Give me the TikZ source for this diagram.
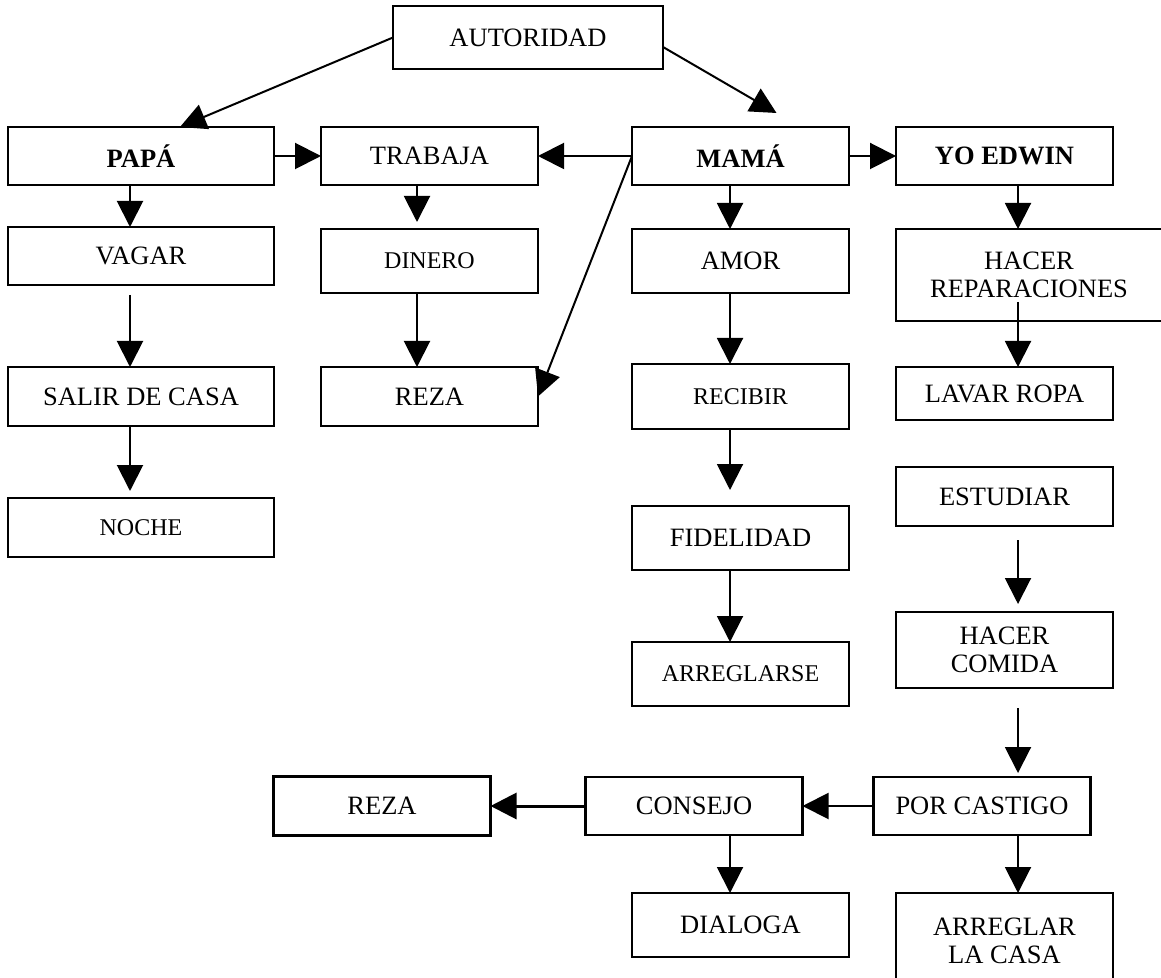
\documentclass[tikz,border=0pt]{standalone}
\usepackage{fontspec}
\setmainfont{Liberation Serif}
\usetikzlibrary{positioning,arrows.meta}

\begin{document}
\begin{tikzpicture} [
                x=0.5pt, y=-0.5pt,
                boxnode/.style={
                    rectangle,
                    draw,
                    line width=1.2pt,
                    minimum width=108.5pt,
                    minimum height=29pt,
                    inner sep=2pt,
                    outer sep=0pt,
                    align=center,
                    font=\fontsize{13.25}{14}\selectfont
                },
                widenode/.style={boxnode, minimum width=133pt},
                smalltext/.style={font=\fontsize{12}{14}\selectfont},
                flecha/.style={-{Triangle[width=13pt,length=13pt]}, line width=1pt}
            ]
                \fill[white] (0,0) rectangle (1161,978);
                \useasboundingbox (0,0) rectangle (1161,978);

                \coordinate (c1) at (130,0);
                \coordinate (c2) at (417,0);
                \coordinate (c3) at (730,0);
                \coordinate (c4) at (1018,0);

                \node[boxnode, minimum width=135pt, minimum height=31.5pt] (aut) at (528,37.5) {AUTORIDAD};

                \node[widenode, font=\fontsize{13.25}{14}\selectfont\bfseries] (papa) at (141,156) {PAPÁ};
                \node[boxnode] (trab) [right=23.5pt of papa] {TRABAJA};
                \node[boxnode, font=\fontsize{13.25}{14}\selectfont\bfseries] (mama) [right=47pt of trab] {MAMÁ};
                \node[boxnode, font=\fontsize{13.25}{14}\selectfont\bfseries] (yo) [right=23.5pt of mama] {YO EDWIN};

                \node[widenode] (vagar) [below=21pt of papa] {VAGAR};
                \node[widenode, minimum height=29.5pt] (salir) [below=41pt of vagar] {SALIR DE CASA};
                \node[widenode, smalltext, minimum height=29.5pt] (noche) [below=36pt of salir] {NOCHE};

                \node[boxnode, smalltext, minimum height=32pt] (dinero) [below=22pt of trab] {DINERO};
                \node[boxnode, minimum height=29.5pt] (reza1) [below=37pt of dinero] {REZA};

                \node[boxnode, minimum height=32pt] (amor) [below=22pt of mama] {AMOR};
                \node[boxnode, smalltext, minimum height=32.5pt] (recibir) [below=35.5pt of amor] {RECIBIR};
                \node[boxnode, minimum height=32pt] (fid) [below=38.5pt of recibir] {FIDELIDAD};
                \node[boxnode, smalltext, minimum height=32pt] (arreglarse) [below=36pt of fid] {ARREGLARSE};

                \node[widenode, minimum height=46pt] (hrep) [below=22pt of yo.south west, anchor=north west] {HACER\\REPARACIONES};
                \node[boxnode, minimum height=26.5pt] (lavar) [below=23pt of hrep.south west, anchor=north west] {LAVAR ROPA};
                \node[boxnode, minimum height=29.5pt] (estud) [below=23.5pt of lavar] {ESTUDIAR};
                \node[boxnode, minimum height=38pt] (hcom) [below=43pt of estud] {HACER\\COMIDA};

                \node[boxnode] (por) at (982,806) {POR CASTIGO};
                \node[boxnode] (consejo) [left=35.5pt of por] {CONSEJO};
                \node[boxnode, minimum height=29.5pt] (reza2) [left=47.5pt of consejo] {REZA};
                \node[boxnode, minimum height=32pt] (dialoga) [below=93.5pt of arreglarse] {DIALOGA};
                \node[boxnode, minimum height=48pt] (arrcasa) [below=102.5pt of hcom] {ARREGLAR\\LA CASA};

                \draw[flecha] (aut.west) -- ([xshift=19.5pt]papa.north);
                \draw[flecha] ([yshift=-4.75pt]aut.east) -- ([xshift=18pt,yshift=7pt]mama.north);
                \draw[flecha] (papa) -- (trab);
                \draw[flecha] (mama.west) -- (trab.east);
                \draw[flecha] (mama.west) -- (reza1.east);
                \draw[flecha] (mama) -- (yo);

                \draw[flecha] (c1 |- papa.south) -- (c1 |- vagar.north);
                \draw[flecha, shorten <=5pt] (c1 |- vagar.south) -- (c1 |- salir.north);
                \draw[flecha, shorten >=3.5pt] (c1 |- salir.south) -- (c1 |- noche.north);
                \draw[flecha, shorten >=3.5pt] (c2 |- trab.south) -- (c2 |- dinero.north);
                \draw[flecha] (c2 |- dinero.south) -- (c2 |- reza1.north);
                \draw[flecha] (c3 |- mama.south) -- (c3 |- amor.north);
                \draw[flecha] (c3 |- amor.south) -- (c3 |- recibir.north);
                \draw[flecha, shorten >=8pt] (c3 |- recibir.south) -- (c3 |- fid.north);
                \draw[flecha] (c3 |- fid.south) -- (c3 |- arreglarse.north);
                \draw[flecha] (c4 |- yo.south) -- (c4 |- hrep.north);
                \draw[flecha, shorten <=-9.5pt] (c4 |- hrep.south) -- (c4 |- lavar.north);
                \draw[flecha, shorten <=7pt, shorten >=4pt] (c4 |- estud.south) -- (c4 |- hcom.north);
                \draw[flecha, shorten <=10pt, shorten >=2pt] (c4 |- hcom.south) -- (c4 |- por.north);
                \draw[flecha] (por) -- (consejo);
                \draw[flecha, line width=1.5pt] (consejo) -- (reza2);
                \draw[flecha] (c3 |- consejo.south) -- (c3 |- dialoga.north);
                \draw[flecha] (c4 |- por.south) -- (c4 |- arrcasa.north);
            \end{tikzpicture}
\end{document}
